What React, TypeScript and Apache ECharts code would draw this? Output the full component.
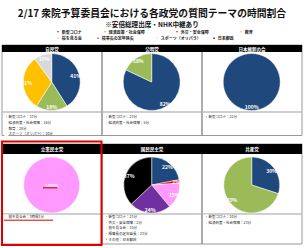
import React, { useEffect, useRef } from 'react';
import * as echarts from 'echarts';

const categories = ['新型コロナ', '経済政策・社会保障', '外交・安全保障', '教育', '桜を見る会', '検事長の定年延長', 'スポーツ（オリパラ）', '日本郵政'];
const categoryColors = ['#1F497D', '#9BBB59', '#FF0000', '#FFC000', '#FF99FF', '#7030A0', '#D9D9D9', '#000000'];

const parties = ['自民党', '公明党', '日本維新の会', '立憲民主党', '国民民主党', '共産党'];

const ldpThemes = ['新型コロナ', '経済政策・社会保障', '教育', 'スポーツ（オリパラ）'];
const ldpPercent = [41, 18, 31, 10];
const ldpNotes = ['新型コロナ：37分', '経済政策・社会保障：16分', '教育：28分', 'スポーツ（オリパラ）：10分'];

const komeitoThemes = ['新型コロナ', '経済政策・社会保障'];
const komeitoPercent = [82, 18];
const komeitoNotes = ['新型コロナ：23分', '経済政策・社会保障：5分'];

const ishinThemes = ['新型コロナ'];
const ishinPercent = [100];
const ishinNotes = ['新型コロナ：22分'];

const cdpThemes = ['桜を見る会'];
const cdpPercent = [100];
const cdpNotes = ['桜を見る会：3時間1分'];

const dppThemes = ['新型コロナ', '外交・安全保障', '桜を見る会', '検事長の定年延長', '日本郵政'];
const dppPercent = [22, 2, 15, 24, 37];
const dppNotes = ['新型コロナ：21分', '外交・安全保障：2分', '桜を見る会：15分', '検事長の定年延長：23分', 'その他：日本郵政'];

const jcpThemes = ['新型コロナ', '経済政策・社会保障'];
const jcpPercent = [30, 70];
const jcpNotes = ['新型コロナ：10分', '経済政策・社会保障：23分'];

const titleText = '2/17 衆院予算委員会における各政党の質問テーマの時間割合';
const subtitleText = '※安倍総理出席・NHK中継あり';

const FONT = "'Noto Sans CJK JP', 'Noto Sans', sans-serif";

export default function App() {
  const ref = useRef<HTMLDivElement>(null);
  useEffect(() => {
    if (!ref.current) return;
    const chart = echarts.init(ref.current, undefined, { renderer: 'svg' });

    const panels = [
      { themes: ldpThemes, values: ldpPercent, notes: ldpNotes },
      { themes: komeitoThemes, values: komeitoPercent, notes: komeitoNotes },
      { themes: ishinThemes, values: ishinPercent, notes: ishinNotes },
      { themes: cdpThemes, values: cdpPercent, notes: cdpNotes, centerLabel: true },
      { themes: dppThemes, values: dppPercent, notes: dppNotes },
      { themes: jcpThemes, values: jcpPercent, notes: jcpNotes },
    ];

    const colX = [2, 102, 202];
    const colW = 100;
    const rows = [
      { top: 45, headerH: 7, cy: 82, r: 28.5, divider: 112, legendTop: 114.6, bottom: 135.5 },
      { top: 144, headerH: 10, cy: 185, r: 28, divider: 214, legendTop: 214.4, bottom: 244 },
    ];
    const colorOf = (n: string) => categoryColors[categories.indexOf(n)];

    const pieSeries: any[] = [];
    const labelSeries: any[] = [];
    const graphics: any[] = [];
    const panelLegends: any[] = [];

    panels.forEach((p, i) => {
      const col = i % 3;
      const row = rows[Math.floor(i / 3)];
      const x0 = colX[col];
      const cx = x0 + colW / 2 - 0.3;
      pieSeries.push({
        type: 'pie',
        center: [cx, row.cy],
        radius: row.r,
        startAngle: 90,
        clockwise: true,
        avoidLabelOverlap: false,
        silent: true,
        data: p.themes.map((n, k) => ({ name: n, value: p.values[k], itemStyle: { color: colorOf(n) } })),
        itemStyle: { borderColor: '#ffffff', borderWidth: 0.5 },
        label: { show: false },
        labelLine: { show: false },
      });
      labelSeries.push({
        type: 'pie',
        center: [cx, row.cy],
        radius: p.centerLabel ? row.r : row.r * 1.54,
        startAngle: 90,
        clockwise: true,
        avoidLabelOverlap: false,
        silent: true,
        z: 4,
        data: p.values.map((v) => ({ value: v })),
        itemStyle: { color: 'rgba(0,0,0,0)', borderWidth: 0 },
        label: {
          show: true,
          position: p.centerLabel ? 'center' : 'inside',
          formatter: '{c}%',
          color: '#ffffff',
          fontSize: 5,
          fontWeight: 'bold',
          fontFamily: FONT,
        },
        labelLine: { show: false },
      });
      graphics.push({
        type: 'rect',
        shape: { x: x0, y: row.top, width: colW, height: row.bottom - row.top },
        style: { fill: 'none', stroke: '#7f7f7f', lineWidth: 0.8 },
        z: 1,
      });
      graphics.push({
        type: 'line',
        shape: { x1: x0, y1: row.divider, x2: x0 + colW, y2: row.divider },
        style: { stroke: '#bfbfbf', lineWidth: 1.5 },
        z: 1,
      });
      graphics.push({
        type: 'rect',
        shape: { x: x0, y: row.top, width: colW, height: row.headerH },
        style: { fill: '#000000' },
        z: 2,
      });
      graphics.push({
        type: 'text',
        x: x0 + colW / 2,
        y: row.top + row.headerH / 2,
        style: {
          text: parties[i],
          fill: '#ffffff',
          fontSize: 4.5,
          fontWeight: 'bold',
          fontFamily: FONT,
          align: 'center',
          verticalAlign: 'middle',
        },
        z: 3,
      });
      panelLegends.push({
        orient: 'vertical',
        left: x0 + 2,
        top: row.legendTop,
        padding: 0,
        itemGap: 1,
        itemWidth: 2.6,
        itemHeight: 2.6,
        icon: 'rect',
        selectedMode: false,
        data: p.themes,
        formatter: (name: string) => p.notes[p.themes.indexOf(name)],
        textStyle: {
          fontSize: 3.5,
          lineHeight: 3.6,
          color: '#222222',
          fontFamily: FONT,
          padding: [0, 0, 0, -4],
        },
      });
    });

    graphics.push({
      type: 'rect',
      shape: { x: 2, y: 141.5, width: 99.5, height: 103.5 },
      style: { fill: 'none', stroke: '#E00000', lineWidth: 2 },
      z: 10,
    });
    graphics.push({
      type: 'line',
      shape: { x1: 43, y1: 187.8, x2: 57.5, y2: 187.8 },
      style: { stroke: '#E00000', lineWidth: 1.2 },
      z: 10,
    });
    graphics.push({
      type: 'line',
      shape: { x1: 4, y1: 220.2, x2: 53, y2: 220.2 },
      style: { stroke: '#E00000', lineWidth: 1 },
      z: 10,
    });

    const topDotX = [57, 104, 176, 240, 57, 97, 156, 213];
    const topRowY = [30.9, 37.4];
    const topLegends = categories.map((c, k) => ({
      left: topDotX[k] - 1.75,
      top: topRowY[Math.floor(k / 4)] - 2,
      padding: 0,
      itemWidth: 3.5,
      itemHeight: 3.5,
      icon: 'circle',
      selectedMode: false,
      data: [c],
      textStyle: {
        fontSize: 4,
        lineHeight: 4,
        fontWeight: 'bold',
        color: '#222222',
        fontFamily: FONT,
        padding: [0, 0, 0, -3],
      },
    }));

    chart.setOption({
      animation: false,
      backgroundColor: '#ffffff',
      title: [
        {
          text: titleText,
          left: 'center',
          top: 8,
          padding: 0,
          textStyle: { fontSize: 9.8, lineHeight: 10, fontWeight: 'bold', color: '#111111', fontFamily: FONT },
        },
        {
          text: subtitleText,
          left: 'center',
          top: 20.3,
          padding: 0,
          textStyle: { fontSize: 6.6, lineHeight: 6.6, fontWeight: 'bold', color: '#111111', fontFamily: FONT },
        },
      ],
      legend: [...topLegends, ...panelLegends],
      series: [...pieSeries, ...labelSeries],
      graphic: { elements: graphics },
    });
    return () => chart.dispose();
  }, []);
  return (
    <div
      ref={ref}
      style={{ position: 'absolute', left: 0, top: 0, width: 304, height: 248, background: '#fff' }}
    />
  );
}
